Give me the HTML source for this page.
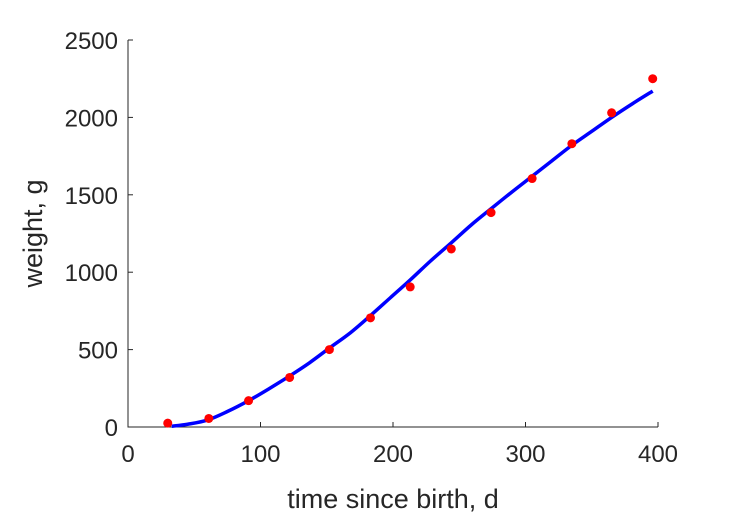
<!DOCTYPE html>
<html><head><meta charset="utf-8"><style>
body{margin:0;background:#fff;}
svg{display:block;font-family:"Liberation Sans",Arial,sans-serif;}
</style></head><body>
<svg id="chart" width="729" height="521" viewBox="0 0 729 521"></svg>
<script>
const xTicks=[0,100,200,300,400];
const yTicks=[0,500,1000,1500,2000,2500];
const obsDays=[30,61,91,122,152,183,213,244,274,305,335,365,396];
const obsWeight=[25,55,170,320,500,705,905,1150,1385,1605,1830,2030,2250];
const fitDays=[33,45,60,75,91,106,122,137,152,168,183,198,213,228,244,259,274,290,305,320,335,350,365,381,396];
const fitWeight=[5,18,45,100,170,245,330,415,510,610,720,835,950,1070,1190,1305,1410,1520,1620,1720,1820,1910,2000,2090,2170];
const NS="http://www.w3.org/2000/svg";
const svg=document.getElementById('chart');
const x0=128,x1=658,y0=427,y1=40;
const sx=v=>x0+(v-0)/(400-0)*(x1-x0);
const sy=v=>y0-(v-0)/(2500-0)*(y0-y1);
function mk(t,a){const e=document.createElementNS(NS,t);for(const k in a)e.setAttribute(k,a[k]);svg.appendChild(e);return e;}
const ax=mk('path',{d:`M${x0},${y1}V${y0}H${x1}`,stroke:'#262626','stroke-width':1,fill:'none'});


xTicks.forEach(t=>{
 const l=mk('line',{x1:sx(t),x2:sx(t),y1:y0,y2:y0-5,stroke:'#262626'});
 
 
 const tx=mk('text',{x:sx(t),y:y0+35,'text-anchor':'middle','font-size':24,fill:'#262626'});
 tx.textContent=t;
 
 
});
yTicks.forEach(t=>{
 const l=mk('line',{x1:x0,x2:x0+5,y1:sy(t),y2:sy(t),stroke:'#262626'});
 
 
 const tx=mk('text',{x:x0-10,y:sy(t)+9,'text-anchor':'end','font-size':24,fill:'#262626'});
 tx.textContent=t;
 
 
});
const xl=mk('text',{x:393,y:508,'text-anchor':'middle','font-size':27,fill:'#262626'});
xl.textContent='time since birth, d';


const yl=mk('text',{x:0,y:0,'text-anchor':'middle','font-size':27,fill:'#262626',transform:`translate(42,${(y0+y1)/2}) rotate(-90)`});
yl.textContent='weight, g';


// smooth fit line (Catmull-Rom)
const P=fitDays.map((d,i)=>[sx(d),sy(fitWeight[i])]);
let d=`M${P[0][0]},${P[0][1]}`;
for(let i=0;i<P.length-1;i++){
 const p0=P[Math.max(0,i-1)],p1=P[i],p2=P[i+1],p3=P[Math.min(P.length-1,i+2)];
 d+=`C${p1[0]+(p2[0]-p0[0])/6},${p1[1]+(p2[1]-p0[1])/6} ${p2[0]-(p3[0]-p1[0])/6},${p2[1]-(p3[1]-p1[1])/6} ${p2[0]},${p2[1]}`;
}
const fl=mk('path',{d:d,stroke:'#0000ff','stroke-width':3.5,fill:'none'});


obsDays.forEach((t,i)=>{
 const c=mk('circle',{cx:sx(t),cy:sy(obsWeight[i]),r:4.5,fill:'#ff0000'});
 
 
});
</script>
</body></html>
